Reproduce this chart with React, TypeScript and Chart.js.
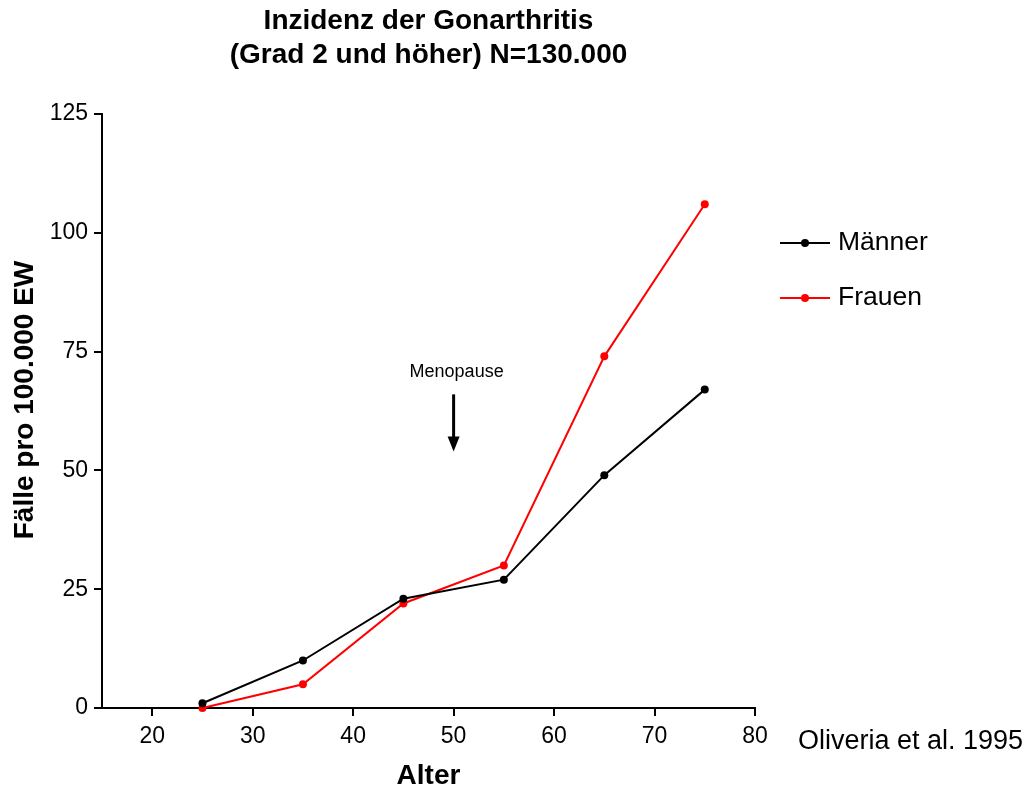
import React, { useEffect, useRef } from "react";
import { Chart, registerables } from "chart.js";

Chart.register(...registerables);

const ages = [25, 35, 45, 55, 65, 75];
const maenner = [1, 10, 23, 27, 49, 67];
const frauen = [0, 5, 22, 30, 74, 106];
const xTicks = [20, 30, 40, 50, 60, 70, 80];
const yTicks = [0, 25, 50, 75, 100, 125];
const titleLines = ["Inzidenz der Gonarthritis", "(Grad 2 und höher) N=130.000"];
const seriesNames = ["Männer", "Frauen"];
const seriesColors = ["#000000", "#ff0000"];
const xTitle = "Alter";
const yTitle = "Fälle pro 100.000 EW";
const sourceText = "Oliveria et al. 1995";
const annotationText = "Menopause";
const annotationX = 50;
const annotationTop = 66;
const annotationBottom = 54;
const annotationLabelY = 70.6;

const FONT = "'Liberation Sans', Arial, Helvetica, sans-serif";

const overlayPlugin = {
  id: "overlay",
  afterDraw(chart: any) {
    const ctx = chart.ctx as CanvasRenderingContext2D;
    const area = chart.chartArea;
    const xs = chart.scales.x;
    const ys = chart.scales.y;
    ctx.save();
    ctx.fillStyle = "#000";
    ctx.textAlign = "center";
    ctx.textBaseline = "middle";
    // title
    ctx.font = `bold 28px ${FONT}`;
    const cx = (area.left + area.right) / 2;
    ctx.fillText(titleLines[0], cx, 21);
    ctx.fillText(titleLines[1], cx, 55);
    // axis titles
    ctx.font = `bold 28px ${FONT}`;
    ctx.fillText(xTitle, cx, 776);
    ctx.save();
    ctx.translate(25, 400);
    ctx.rotate(-Math.PI / 2);
    ctx.fillText(yTitle, 0, 0);
    ctx.restore();
    // source
    ctx.font = `27px ${FONT}`;
    ctx.textAlign = "left";
    ctx.fillText(sourceText, 798, 742);
    // legend
    const legY = [243, 298];
    for (let i = 0; i < seriesNames.length; i++) {
      const y = legY[i];
      ctx.strokeStyle = seriesColors[i];
      ctx.fillStyle = seriesColors[i];
      ctx.lineWidth = 2;
      ctx.beginPath();
      ctx.moveTo(780, y);
      ctx.lineTo(830, y);
      ctx.stroke();
      ctx.beginPath();
      ctx.arc(805, y, 4, 0, Math.PI * 2);
      ctx.fill();
      ctx.fillStyle = "#000";
      ctx.font = `26.5px ${FONT}`;
      ctx.fillText(seriesNames[i], 838, y);
    }
    // annotation
    const ax = xs.getPixelForValue(annotationX);
    ctx.textAlign = "center";
    ctx.font = `18px ${FONT}`;
    ctx.fillText(annotationText, ax + 3, ys.getPixelForValue(annotationLabelY));
    const yTop = ys.getPixelForValue(annotationTop);
    const yBot = ys.getPixelForValue(annotationBottom);
    ctx.strokeStyle = "#000";
    ctx.lineWidth = 3;
    ctx.beginPath();
    ctx.moveTo(ax, yTop);
    ctx.lineTo(ax, yBot - 13);
    ctx.stroke();
    ctx.beginPath();
    ctx.moveTo(ax - 6, yBot - 15);
    ctx.lineTo(ax + 6, yBot - 15);
    ctx.lineTo(ax, yBot);
    ctx.closePath();
    ctx.fill();
    ctx.restore();
  },
};

export default function App() {
  const ref = useRef<HTMLCanvasElement>(null);
  useEffect(() => {
    if (!ref.current) return;
    const chart = new Chart(ref.current, {
      type: "line",
      data: {
        datasets: [
          {
            label: seriesNames[0],
            data: ages.map((a, i) => ({ x: a, y: maenner[i] })),
            borderColor: seriesColors[0],
            backgroundColor: seriesColors[0],
            borderWidth: 2,
            pointRadius: 4,
            pointBorderWidth: 0,
            clip: false,
          },
          {
            label: seriesNames[1],
            data: ages.map((a, i) => ({ x: a, y: frauen[i] })),
            borderColor: seriesColors[1],
            backgroundColor: seriesColors[1],
            borderWidth: 2,
            pointRadius: 4,
            pointBorderWidth: 0,
            clip: false,
          },
        ],
      },
      options: {
        animation: false,
        responsive: false,
        layout: { padding: { left: 0, top: 114, right: 274, bottom: 0 } },
        plugins: { legend: { display: false }, title: { display: false }, tooltip: { enabled: false } },
        scales: {
          x: {
            type: "linear",
            min: 15,
            max: 80,
            afterBuildTicks: (s: any) => {
              s.ticks = xTicks.map((v) => ({ value: v }));
            },
            afterFit: (s: any) => {
              s.height = 81;
            },
            grid: { drawOnChartArea: false, drawTicks: true, tickLength: 8, color: "#000", lineWidth: 2 },
            border: { display: true, color: "#000", width: 2 },
            ticks: { color: "#000", font: { family: FONT, size: 23 }, padding: 7, maxRotation: 0 },
          },
          y: {
            type: "linear",
            min: 0,
            max: 125,
            afterBuildTicks: (s: any) => {
              s.ticks = yTicks.map((v) => ({ value: v }));
            },
            afterFit: (s: any) => {
              s.width = 102;
            },
            grid: { drawOnChartArea: false, drawTicks: true, tickLength: 8, color: "#000", lineWidth: 2 },
            border: { display: true, color: "#000", width: 2 },
            ticks: { color: "#000", font: { family: FONT, size: 23 }, padding: 6 },
          },
        },
      },
      plugins: [overlayPlugin],
    } as any);
    return () => chart.destroy();
  }, []);
  return (
    <div style={{ position: "fixed", left: 0, top: 0, width: 1029, height: 789, background: "#fff" }}>
      <canvas ref={ref} width={1029} height={789} style={{ display: "block" }} />
    </div>
  );
}
